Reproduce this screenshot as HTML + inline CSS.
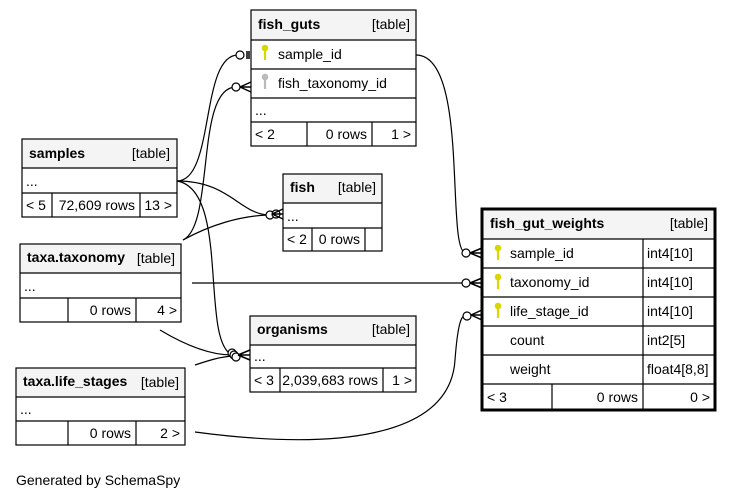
<!DOCTYPE html>
<html><head><meta charset="utf-8"><style>
html,body{margin:0;padding:0;background:#fff}
svg{display:block;font-family:"Liberation Sans",Arial,sans-serif}
</style></head><body>
<svg width="733" height="500" viewBox="0 0 733 500" xmlns="http://www.w3.org/2000/svg">
<g fill="none" stroke="#000" stroke-width="1.2">
<path d="M177,181 C215,181 200,55 238,55"/>
<path d="M183,240 C215,225 195,87 236,87"/>
<path d="M177,181 C230,181 240,215 270,215"/>
<path d="M183,240 C210,225 240,216 268,215"/>
<path d="M177,181 C230,190 200,340 232,355"/>
<path d="M160,330 C185,345 210,355 232,355"/>
<path d="M195,365 C210,360 220,357 232,356"/>
<path d="M416,55 C470,55 445,253 466,253"/>
<path d="M192,283 L466,283"/>
<path d="M195,432 C330,450 450,440 455,360 C458,320 462,315 466,315"/>
</g>
<g fill="#fff" stroke="#000" stroke-width="1.2">
<circle cx="240" cy="55" r="4"/><circle cx="236" cy="87" r="4"/>
<circle cx="270" cy="215" r="4"/><circle cx="276" cy="214" r="4"/>
<circle cx="232" cy="353" r="4"/><circle cx="234" cy="355" r="4"/><circle cx="236" cy="357" r="4"/>
<circle cx="466" cy="253" r="4"/><circle cx="466" cy="283" r="4"/><circle cx="467" cy="316" r="4"/>
</g>
<g stroke="#000" stroke-width="1.5" fill="none">
<path d="M247,51 v8 M249,51 v8"/>
<path d="M240,87 L251,82 M240,87 L251,87 M240,87 L251,92"/>
<path d="M272,214 L283,209 M272,214 L283,214 M272,214 L283,219"/>
<path d="M238,355 L250,350 M238,355 L250,355 M238,355 L250,360"/>
<path d="M470,253 L482,248 M470,253 L482,253 M470,253 L482,258"/>
<path d="M470,283 L482,278 M470,283 L482,283 M470,283 L482,288"/>
<path d="M471,315 L482,310 M471,315 L482,315 M471,315 L482,320"/>
</g>
<g font-size="14" stroke="none">
<rect x="251" y="10" width="165" height="30" fill="#f4f4f4"/>
<g fill="none" stroke="#000" stroke-width="1.2">
<rect x="251" y="10" width="165" height="136"/>
<path d="M251,40 H416 M251,69 H416 M251,98 H416 M251,122 H416 M307,122 V146 M372,122 V146"/>
</g>
<text x="258" y="29" font-weight="bold">fish_guts</text><text x="410" y="29" text-anchor="end">[table]</text>
<g fill="#d8d800" stroke="#d8d800"><circle cx="265" cy="48" r="2.8"/><path d="M265,49 V60" stroke-width="2.2"/></g>
<text x="278" y="59">sample_id</text>
<g fill="#bbb" stroke="#bbb"><circle cx="265" cy="77" r="2.8"/><path d="M265,78 V89" stroke-width="2.2"/></g>
<text x="278" y="88">fish_taxonomy_id</text>
<text x="255" y="115">...</text>
<text x="255" y="139">&lt; 2</text><text x="367" y="139" text-anchor="end">0 rows</text><text x="411" y="139" text-anchor="end">1 &gt;</text>
<rect x="22" y="139" width="155" height="29" fill="#f4f4f4"/>
<g fill="none" stroke="#000" stroke-width="1.2">
<rect x="22" y="139" width="155" height="78"/>
<path d="M22,168 H177 M22,193 H177 M52,193 V217 M140,193 V217"/>
</g>
<text x="29" y="158" font-weight="bold">samples</text><text x="170" y="158" text-anchor="end">[table]</text>
<text x="26" y="186">...</text>
<text x="26" y="210">&lt; 5</text><text x="135" y="210" text-anchor="end">72,609 rows</text><text x="172" y="210" text-anchor="end">13 &gt;</text>
<rect x="283" y="174" width="99" height="29" fill="#f4f4f4"/>
<g fill="none" stroke="#000" stroke-width="1.2">
<rect x="283" y="174" width="99" height="77"/>
<path d="M283,203 H382 M283,228 H382 M312,228 V251 M365,228 V251"/>
</g>
<text x="290" y="192" font-weight="bold">fish</text><text x="376" y="192" text-anchor="end">[table]</text>
<text x="287" y="221">...</text>
<text x="287" y="244">&lt; 2</text><text x="360" y="244" text-anchor="end">0 rows</text>
<rect x="20" y="244" width="161" height="29" fill="#f4f4f4"/>
<g fill="none" stroke="#000" stroke-width="1.2">
<rect x="20" y="244" width="161" height="78"/>
<path d="M20,273 H181 M20,298 H181 M68,298 V322 M136,298 V322"/>
</g>
<text x="27" y="262" font-weight="bold">taxa.taxonomy</text><text x="175" y="263" text-anchor="end">[table]</text>
<text x="24" y="291">...</text>
<text x="131" y="315" text-anchor="end">0 rows</text><text x="177" y="315" text-anchor="end">4 &gt;</text>
<rect x="250" y="316" width="166" height="29" fill="#f4f4f4"/>
<g fill="none" stroke="#000" stroke-width="1.2">
<rect x="250" y="316" width="166" height="76"/>
<path d="M250,345 H416 M250,368 H416 M280,368 V392 M383,368 V392"/>
</g>
<text x="257" y="334" font-weight="bold">organisms</text><text x="410" y="334" text-anchor="end">[table]</text>
<text x="254" y="361">...</text>
<text x="254" y="385">&lt; 3</text><text x="378" y="385" text-anchor="end">2,039,683 rows</text><text x="412" y="385" text-anchor="end">1 &gt;</text>
<rect x="16" y="368" width="169" height="29" fill="#f4f4f4"/>
<g fill="none" stroke="#000" stroke-width="1.2">
<rect x="16" y="368" width="169" height="77"/>
<path d="M16,397 H185 M16,421 H185 M68,421 V445 M136,421 V445"/>
</g>
<text x="23" y="386" font-weight="bold">taxa.life_stages</text><text x="179" y="387" text-anchor="end">[table]</text>
<text x="20" y="414">...</text>
<text x="131" y="438" text-anchor="end">0 rows</text><text x="180" y="438" text-anchor="end">2 &gt;</text>
<rect x="482" y="209" width="233" height="30" fill="#f4f4f4"/>
<g fill="none" stroke="#000" stroke-width="1.2">
<path d="M482,239 H715 M482,268 H715 M482,297 H715 M482,326 H715 M482,355 H715 M482,384 H715 M643,239 V410 M552,384 V410"/>
<rect x="482" y="209" width="233" height="201" stroke-width="3"/>
</g>
<text x="490" y="228" font-weight="bold">fish_gut_weights</text><text x="708" y="228" text-anchor="end">[table]</text>
<g fill="#d8d800" stroke="#d8d800"><circle cx="498" cy="248" r="2.8"/><path d="M498,249 V260" stroke-width="2.2"/></g>
<text x="510" y="258">sample_id</text><text x="647" y="258">int4[10]</text>
<g fill="#d8d800" stroke="#d8d800"><circle cx="498" cy="277" r="2.8"/><path d="M498,278 V289" stroke-width="2.2"/></g>
<text x="510" y="287">taxonomy_id</text><text x="647" y="287">int4[10]</text>
<g fill="#d8d800" stroke="#d8d800"><circle cx="498" cy="306" r="2.8"/><path d="M498,307 V318" stroke-width="2.2"/></g>
<text x="510" y="316">life_stage_id</text><text x="647" y="316">int4[10]</text>
<text x="510" y="345">count</text><text x="647" y="345">int2[5]</text>
<text x="510" y="374">weight</text><text x="647" y="374">float4[8,8]</text>
<text x="487" y="402">&lt; 3</text><text x="638" y="402" text-anchor="end">0 rows</text><text x="710" y="402" text-anchor="end">0 &gt;</text>
<text x="16" y="485">Generated by SchemaSpy</text>
</g>
</svg>
</body></html>
